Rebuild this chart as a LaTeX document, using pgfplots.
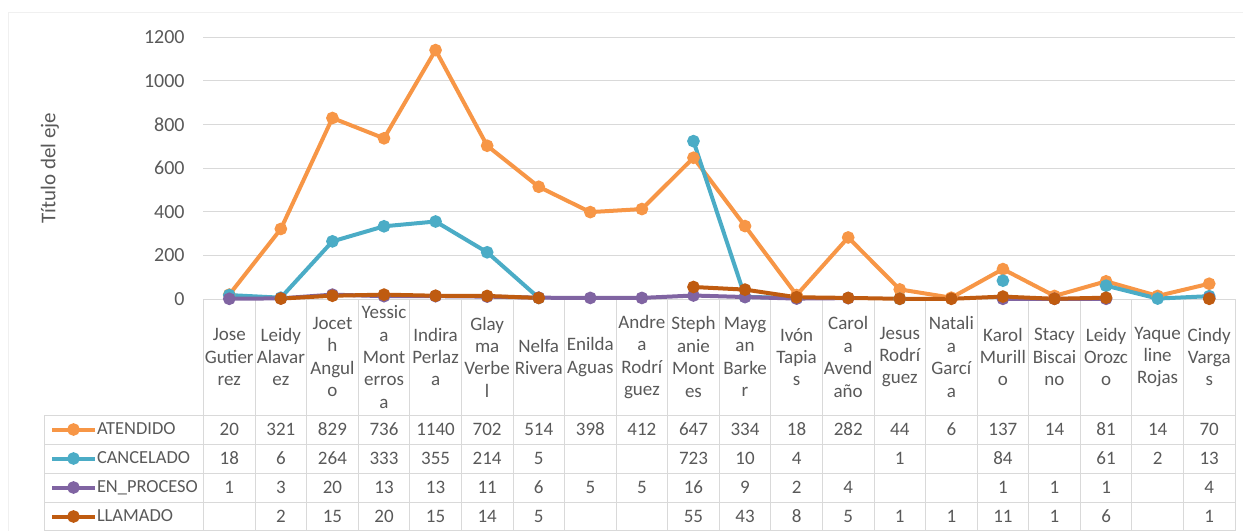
\documentclass[border=0pt]{standalone}
\usepackage{pgfplots}
\pgfplotsset{compat=1.18}
\usepackage{fontspec}
\setmainfont{Carlito}
\definecolor{cAt}{HTML}{F79646}
\definecolor{cCa}{HTML}{4BACC6}
\definecolor{cEn}{HTML}{8064A2}
\definecolor{cLl}{HTML}{BF5B10}
\definecolor{txt}{HTML}{595959}
\definecolor{grd}{HTML}{D9D9D9}
\newcommand\tabrow[2]{\foreach \v [count=\i from 0] in {#2} {\node[txt, font=\fontsize{9.5}{11}\selectfont, inner sep=0pt] at ({203.5+(\i+0.5)*51.575},#1) {\v};}}
\begin{document}
\begin{tikzpicture}
\begin{scope}[x=0.5pt,y=-0.5pt]
\path[use as bounding box] (0,0) rectangle (1243,531);
\draw[color=black!6] (8,531) -- (8,12) -- (1243,12);
\foreach \k in {0,...,20} \draw[grd] ({203.5+\k*51.575},299) -- ({203.5+\k*51.575},531);
\draw[grd] (44,415) -- (44,531);
\foreach \yy in {415,444,473,502,530.5} \draw[grd] (44,\yy) -- (1235,\yy);
\tabrow{429.5}{20,321,829,736,1140,702,514,398,412,647,334,18,282,44,6,137,14,81,14,70}
\tabrow{458.5}{18,6,264,333,355,214,5,,,723,10,4,,1,,84,,61,2,13}
\tabrow{487.5}{1,3,20,13,13,11,6,5,5,16,9,2,4,,,1,1,1,,4}
\tabrow{516.5}{,2,15,20,15,14,5,,,55,43,8,5,1,1,11,1,6,,1}
\end{scope}
\begin{axis}[
  at={(101.75pt,-149.5pt)}, anchor=south west,
  scale only axis, width=515.75pt, height=131pt,
  xmin=-0.5, xmax=19.5, ymin=0, ymax=1200,
  ytick={0,200,...,1200}, xtick={0,...,19},
  xticklabels={{Jose\\Gutier\\rez},{Leidy\\Alavar\\ez},{Jocet\\h\\Angul\\o},{Yessic\\a\\Mont\\erros\\a},{Indira\\Perlaz\\a},{Glay\\ma\\Verbe\\l},{Nelfa\\Rivera},{Enilda\\Aguas},{Andre\\a\\Rodrí\\guez},{Steph\\anie\\Mont\\es},{Mayg\\an\\Barke\\r},{Ivón\\Tapia\\s},{Carol\\a\\Avend\\año},{Jesus\\Rodrí\\guez},{Natali\\a\\Garcí\\a},{Karol\\Murill\\o},{Stacy\\Biscai\\no},{Leidy\\Orozc\\o},{Yaque\\line\\Rojas},{Cindy\\Varga\\s}},
  axis line style={draw=none}, major tick length=0pt,
  ymajorgrids, grid style={grd, line width=0.5pt},
  clip=false,
  unbounded coords=jump,
  tick label style={txt}, /pgf/number format/assume math mode=true,
  /pgf/number format/1000 sep={},
  yticklabel style={inner sep=0pt, xshift=-9.25pt, font=\fontsize{10}{12}\selectfont},
  xticklabel style={anchor=center, align=center, inner sep=0pt, yshift=-29pt, font=\fontsize{9.5}{11.2}\selectfont},
  ylabel={Título del eje},
  ylabel style={at={(axis description cs:-0.1488,0.5)}, anchor=center, txt, font=\fontsize{10.5}{12}\selectfont},
  every axis plot/.append style={line width=2pt, mark=*, mark size=2.8pt, mark options={solid, line width=0.75pt}},
  legend image code/.code={\draw[mark repeat=2,mark phase=2,#1] plot coordinates {(0pt,0pt)(10.75pt,0pt)(21.5pt,0pt)};},
  legend style={at={(axis description cs:-0.1488,-0.4599)}, anchor=north west, draw=none, fill=none, inner sep=0pt, outer sep=0pt, row sep=4.5pt,
    nodes={inner xsep=0pt, inner ysep=0pt, text height=7.5pt, text depth=2.5pt, txt, font=\fontsize{9.2}{11}\selectfont}},
  legend cell align=left,
]
\addplot[color=cAt] coordinates {(0,20)(1,321)(2,829)(3,736)(4,1140)(5,702)(6,514)(7,398)(8,412)(9,647)(10,334)(11,18)(12,282)(13,44)(14,6)(15,137)(16,14)(17,81)(18,14)(19,70)};
\addlegendentry{ATENDIDO}
\addplot[color=cCa] coordinates {(0,18)(1,6)(2,264)(3,333)(4,355)(5,214)(6,5)(7,nan)(8,nan)(9,723)(10,10)(11,4)(12,nan)(13,1)(14,nan)(15,84)(16,nan)(17,61)(18,2)(19,13)};
\addlegendentry{CANCELADO}
\addplot[color=cEn] coordinates {(0,1)(1,3)(2,20)(3,13)(4,13)(5,11)(6,6)(7,5)(8,5)(9,16)(10,9)(11,2)(12,4)(13,nan)(14,nan)(15,1)(16,1)(17,1)(18,nan)(19,4)};
\addlegendentry{EN\_PROCESO}
\addplot[color=cLl] coordinates {(0,nan)(1,2)(2,15)(3,20)(4,15)(5,14)(6,5)(7,nan)(8,nan)(9,55)(10,43)(11,8)(12,5)(13,1)(14,1)(15,11)(16,1)(17,6)(18,nan)(19,1)};
\addlegendentry{LLAMADO}
\end{axis}
\end{tikzpicture}
\end{document}
